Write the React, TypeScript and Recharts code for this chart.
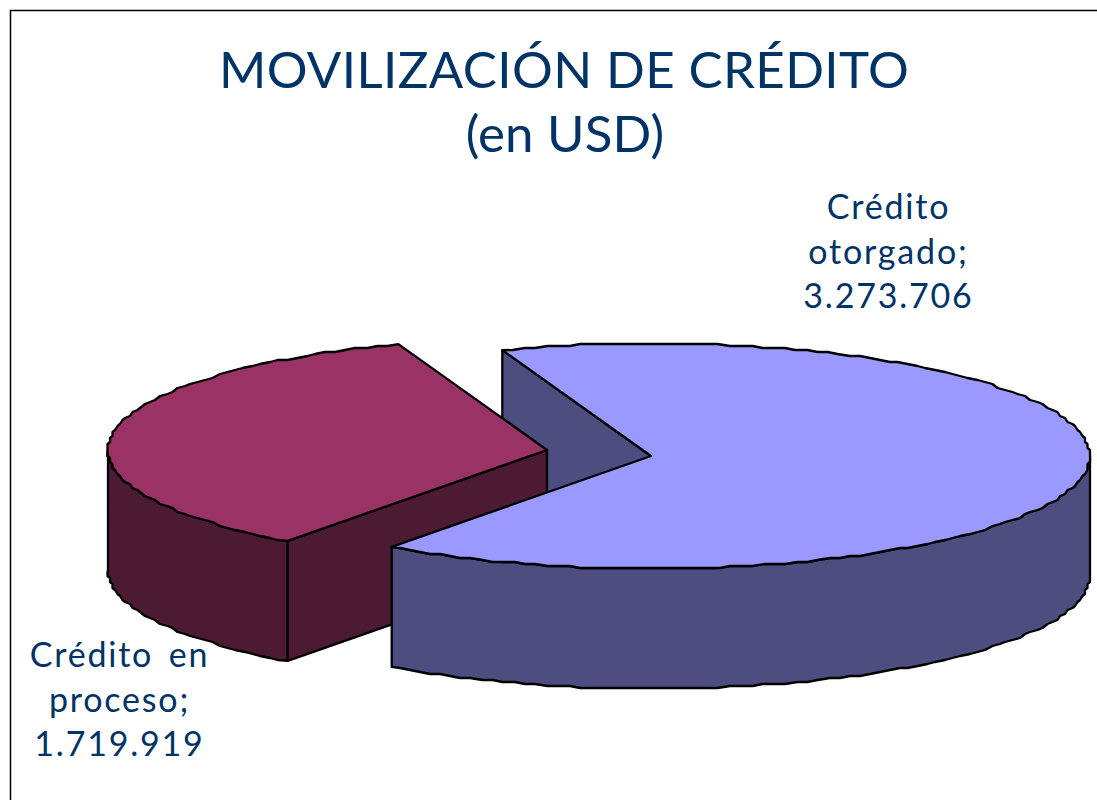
import React from 'react';
import { PieChart, Pie } from 'recharts';

const categories = ['Crédito otorgado', 'Crédito en proceso'];
const values = [3273706, 1719919];
const labelLines = [['Crédito', 'otorgado;'], ['Crédito en', 'proceso;']];
const titleLines = ['MOVILIZACIÓN DE CRÉDITO', '(en USD)'];
const topColors = ['#9999FF', '#993366'];
const sideColors = ['#4D4D80', '#4D1A33'];

const data = categories.map((name, i) => ({ name, value: values[i] }));

const SQUASH = 0.2565;
const DEPTH = 120;
const RAD = Math.PI / 180;
const NAVY = '#003366';
const FONT = 'Lato, sans-serif';
const OFFSETS = [{ x: 0, y: 0 }, { x: -104, y: -6 }];
const LABEL_POS = [{ x: 888.5, y: 219 }, { x: 119.5, y: 667 }];

const fmt = (v: number) => String(v).replace(/\B(?=(\d{3})+$)/g, '.');
const snap = (v: number, g: number) => Math.round(v / g) * g;

function arcPts(cx: number, cy: number, r: number, a0: number, a1: number) {
  const pts: [number, number][] = [];
  const step = 1.5;
  const n = Math.max(1, Math.round(Math.abs(a1 - a0) / step));
  for (let i = 0; i <= n; i++) {
    const a = (a0 + ((a1 - a0) * i) / n) * RAD;
    let x = cx + r * Math.cos(a);
    let y = cy - r * SQUASH * Math.sin(a);
    if (i > 0 && i < n) {
      x = snap(x, 2.5);
      y = snap(y, 2);
    }
    pts.push([x, y]);
  }
  return pts;
}
const toD = (pts: [number, number][], close = true) =>
  'M' + pts.map((p) => `${p[0].toFixed(1)} ${p[1].toFixed(1)}`).join('L') + (close ? 'Z' : '');
const drop = (pts: [number, number][]) => pts.map((p) => [p[0], p[1] + DEPTH] as [number, number]).reverse();

const edge = { stroke: '#000', strokeWidth: 2.3, strokeLinejoin: 'round' as const };

function Top({ p, i }: any) {
  const pts: [number, number][] = [[p.cx, p.cy], ...arcPts(p.cx, p.cy, p.r, p.start, p.end)];
  return <path d={toD(pts)} fill={topColors[i]} {...edge} />;
}
// outer rim between two angles
function Rim({ p, i, a0, a1 }: any) {
  const a = arcPts(p.cx, p.cy, p.r, a0, a1);
  return <path d={toD([...a, ...drop(a)])} fill={sideColors[i]} {...edge} />;
}
// radial cut wall at a given angle
function Cut({ p, i, a }: any) {
  const rim: [number, number] = [p.cx + p.r * Math.cos(a * RAD), p.cy - p.r * SQUASH * Math.sin(a * RAD)];
  const c: [number, number] = [p.cx, p.cy];
  return <path d={toD([rim, c, [c[0], c[1] + DEPTH], [rim[0], rim[1] + DEPTH]])} fill={sideColors[i]} {...edge} />;
}

const geom = (props: any, i: number) => ({
  cx: props.cx + OFFSETS[i].x,
  cy: props.cy + OFFSETS[i].y,
  r: props.outerRadius,
  start: props.startAngle,
  end: props.endAngle,
});

// First layer: the back cut wall of the large slice, then the whole exploded slice
function BackLayer(props: any) {
  const i = categories.indexOf(props.name);
  const p = geom(props, i);
  if (i === 0) return <Cut p={p} i={i} a={p.start} />;
  return (
    <g>
      <Rim p={p} i={i} a0={p.start} a1={-180} />
      <Cut p={p} i={i} a={p.start} />
      <Top p={p} i={i} />
    </g>
  );
}

// Second layer: rim and top of the large slice, which overlap the other slice
function FrontLayer(props: any) {
  const i = categories.indexOf(props.name);
  if (i !== 0) return <g />;
  const p = geom(props, i);
  return (
    <g>
      <Rim p={p} i={i} a0={0} a1={p.end} />
      <Top p={p} i={i} />
    </g>
  );
}

function renderLabel(props: any) {
  const i = categories.indexOf(props.name);
  const pos = LABEL_POS[i];
  const lines = [...labelLines[i], fmt(props.value)];
  return (
    <text
      x={pos.x}
      y={pos.y}
      textAnchor="middle"
      fill={NAVY}
      fontFamily={FONT}
      fontSize={34}
      letterSpacing={1.8}
      wordSpacing={5}
    >
      {lines.map((l, k) => (
        <tspan key={k} x={pos.x} y={pos.y + k * 44.5}>
          {l}
        </tspan>
      ))}
    </text>
  );
}

export default function App() {
  return (
    <div style={{ position: 'absolute', left: 0, top: 0, width: 1097, height: 800, overflow: 'hidden', background: '#fff' }}>
      <PieChart width={1097} height={800} margin={{ top: 0, right: 0, bottom: 0, left: 0 }}>
        <path d="M10.5 800V10.5H1097" fill="none" stroke="#000" strokeWidth={1.5} />
        <text x={564} y={88} textAnchor="middle" fill={NAVY} fontFamily={FONT} fontSize={51} letterSpacing={0.4}>
          {titleLines[0]}
        </text>
        <text x={565} y={152} textAnchor="middle" fill={NAVY} fontFamily={FONT} fontSize={51} letterSpacing={0.2}>
          {titleLines[1]}
        </text>
        <Pie
          data={data}
          dataKey="value"
          nameKey="name"
          cx={651}
          cy={456}
          outerRadius={439}
          startAngle={109.8}
          endAngle={-250.2}
          isAnimationActive={false}
          shape={BackLayer}
          label={false}
          labelLine={false}
        />
        <Pie
          data={data}
          dataKey="value"
          nameKey="name"
          cx={651}
          cy={456}
          outerRadius={439}
          startAngle={109.8}
          endAngle={-250.2}
          isAnimationActive={false}
          shape={FrontLayer}
          label={renderLabel}
          labelLine={false}
        />
      </PieChart>
    </div>
  );
}
